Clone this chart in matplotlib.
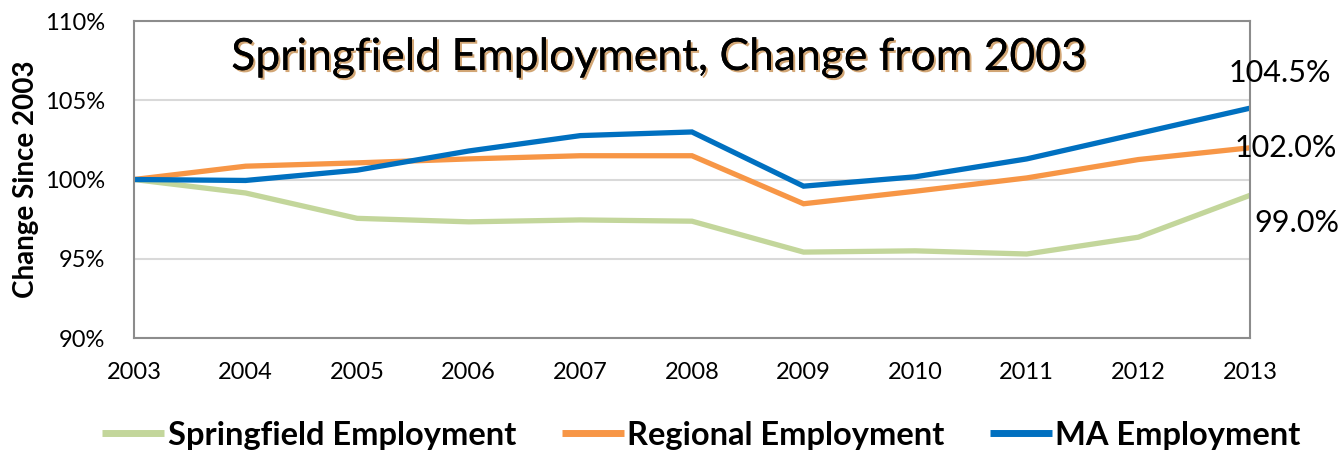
import numpy as np
import matplotlib.pyplot as plt
import matplotlib.patheffects as pe
from matplotlib.ticker import FuncFormatter

plt.rcParams['font.family'] = ['Lato', 'DejaVu Sans']

# values (% of 2003 level)
years = [2003, 2004, 2005, 2006, 2007, 2008, 2009, 2010, 2011, 2012, 2013]
springfield = [100.0, 99.15, 97.55, 97.33, 97.45, 97.37, 95.42, 95.5, 95.3, 96.36, 99.0]
regional = [100.0, 100.84, 101.05, 101.3, 101.5, 101.5, 98.47, 99.26, 100.1, 101.26, 102.0]
ma = [100.0, 99.94, 100.59, 101.8, 102.77, 103.0, 99.58, 100.17, 101.3, 102.9, 104.5]

series_names = ['Springfield Employment', 'Regional Employment', 'MA Employment']
series_colors = ['#C3D69B', '#F79646', '#0070C0']
end_labels = ['99.0%', '102.0%', '104.5%']
# offsets in pixels of the end labels from the last point
label_offsets = [(47, -28), (36, 0), (30, 35)]

fig = plt.figure(figsize=(13.44, 4.54), dpi=100)
ax = fig.add_axes([0.0997, 0.2555, 0.8303, 0.6982])

all_series = [springfield, regional, ma]
for vals, name, col, lab, off in zip(all_series, series_names, series_colors, end_labels, label_offsets):
    ax.plot(years, vals, color=col, lw=3.8, label=name, solid_joinstyle='miter', solid_capstyle='butt')
    ax.annotate(lab, (years[-1], vals[-1]), xytext=(off[0] * 0.72, off[1] * 0.72),
                textcoords='offset points', ha='center', va='center', fontsize=22,
                annotation_clip=False)

ax.set_xlim(2003, 2013)
ax.set_ylim(90, 110)
ax.set_xticks(years)
ax.set_yticks([90, 95, 100, 105, 110])
ax.yaxis.set_major_formatter(FuncFormatter(lambda v, p: '%d%%' % v))
ax.tick_params(length=0, labelsize=17)
ax.tick_params(axis='x', pad=17)
ax.tick_params(axis='y', pad=21)
ax.grid(axis='y', color='#D9D9D9', lw=1.5)
ax.set_axisbelow(True)
for s in ax.spines.values():
    s.set_color('#8C8C8C')
    s.set_linewidth(1.5)

ax.set_ylabel('Change Since 2003', fontsize=20, fontweight='bold', labelpad=4)

ax.text(0.471, 0.885, 'Springfield Employment, Change from 2003', transform=ax.transAxes,
        ha='center', va='center', fontsize=32, color='black',
        path_effects=[pe.withSimplePatchShadow(offset=(1.5, -1.5), shadow_rgbFace='#C0803A', alpha=0.7),
                      pe.Normal()])

leg = fig.legend(loc='lower center', bbox_to_anchor=(0.522, -0.055), ncol=3, frameon=False,
                 handlelength=1.9, handletextpad=0.1, columnspacing=1.4,
                 prop={'size': 23.5, 'weight': 'bold'})
for h in leg.get_lines():
    h.set_linewidth(5)

fig.savefig('out.png', dpi=100)
